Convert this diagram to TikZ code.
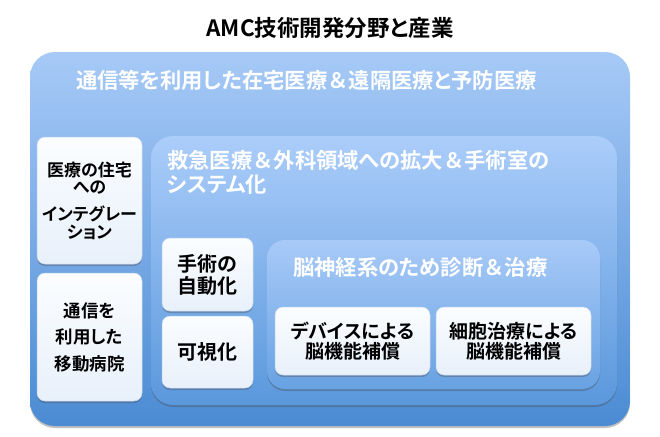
\documentclass[tikz,border=0pt]{standalone}
\usepackage{fontspec}
\setmainfont{Noto Sans CJK JP}[BoldFont={Noto Sans CJK JP Bold},RawFeature={+palt}]
\newfontfamily\jpfull{Noto Sans CJK JP}[BoldFont={Noto Sans CJK JP Bold}]
\newcommand{\amp}{{\jpfull ＆}}
\usetikzlibrary{shadows}
\definecolor{outtop}{HTML}{A7CAF7}
\definecolor{outbot}{HTML}{4B8BD3}
\definecolor{midtop}{HTML}{ABCDFA}
\definecolor{midbot}{HTML}{5A98DC}
\definecolor{inntop}{HTML}{A8CAF8}
\definecolor{innbot}{HTML}{68A2E2}
\definecolor{wtop}{HTML}{FBFDFF}
\definecolor{wbot}{HTML}{E8F0FA}
\definecolor{wline}{HTML}{C5D6EC}
\begin{document}
\begin{tikzpicture}[x=1pt,y=-1pt,
  boxshadow/.style={drop shadow={shadow xshift=0pt,shadow yshift=-2pt,opacity=0.35,fill=black!70}},
  bluebox/.style={rectangle,inner sep=0pt,draw=none,boxshadow},
  whitebox/.style={rectangle,rounded corners=8pt,inner sep=0pt,draw=wline,line width=0.5pt,
    top color=wtop,bottom color=wbot,align=center,text=black,boxshadow},
  bluelabel/.style={anchor=west,inner sep=0pt,text=white,font=\bfseries\fontsize{21.3}{24}\selectfont,align=left},
  fs/.style 2 args={font=\bfseries\fontsize{#1}{#2}\selectfont},
]
\useasboundingbox (0,0) rectangle (660,436);
\fill[white] (0,0) rectangle (660,436);

\node[inner sep=0pt,fs={22.5}{26}] (title) at (330,28) {AMC技術開発分野と産業};

% outer
\node[bluebox,rounded corners=25pt,top color=outtop,bottom color=outbot,
  minimum width=600pt,minimum height=374pt] (outer) at (330,239) {};
\node[bluelabel] (outerlbl) at (76,80) {通信等を利用した在宅医療\amp 遠隔医療と予防医療};

% left boxes
\node[whitebox,fs={17}{17.5},minimum width=105pt,minimum height=127pt] (home) at (89.5,200.5)
  {医療の住宅\\への\\[9.5pt]インテグレー\\ション};
\node[whitebox,fs={17.5}{26.5},minimum width=105pt,minimum height=128pt] (mobile) at (89.5,337)
  {通信を\\利用した\\移動病院};

% middle
\node[bluebox,rounded corners=22pt,top color=midtop,bottom color=midbot,
  minimum width=466pt,minimum height=269pt] (mid) at (384,270.5) {};
\node[bluelabel,anchor=north west] (midlbl) at (167,150.5) {救急医療\amp 外科領域への拡大\amp 手術室の\\システム化};

\node[whitebox,fs={20}{22},minimum width=91pt,minimum height=73pt] (auto) at (207.5,274.5)
  {手術の\\自動化};
\node[whitebox,fs={20}{22},minimum width=91pt,minimum height=72pt] (vis) at (207.5,352)
  {可視化};

% inner
\node[bluebox,rounded corners=18pt,top color=inntop,bottom color=innbot,
  minimum width=333pt,minimum height=149pt] (inner) at (433.5,314.5) {};
\node[bluelabel] (innerlbl) at (293,267) {脳神経系のため診断\amp 治療};

\node[whitebox,fs={19}{20},minimum width=155pt,minimum height=68pt] (device) at (352.5,341)
  {デバイスによる\\脳機能補償};
\node[whitebox,fs={19}{20},minimum width=155pt,minimum height=68pt] (cell) at (513.5,341)
  {細胞治療による\\脳機能補償};
\end{tikzpicture}
\end{document}
